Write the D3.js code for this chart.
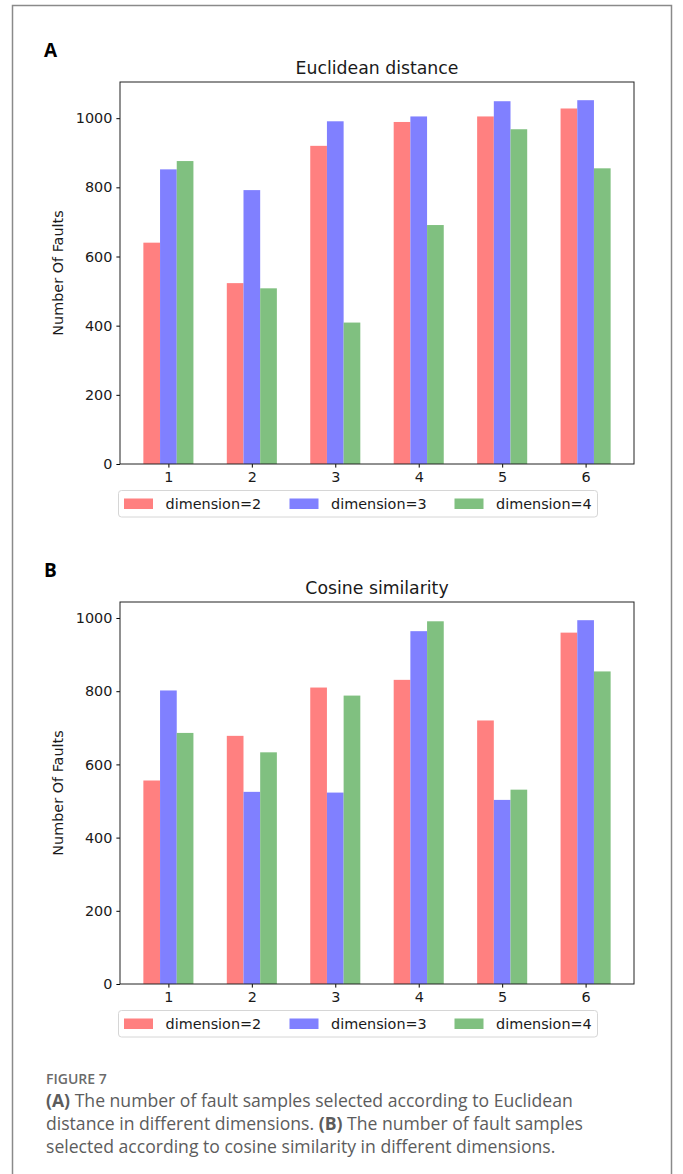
<!DOCTYPE html>
<html>
<head>
<meta charset="utf-8">
<script src="https://cdn.jsdelivr.net/npm/d3@7"></script>
<style>
  html, body { margin: 0; padding: 0; background: #fff; }
  svg { display: block; }
</style>
</head>
<body>
<div id="chart"></div>
<script>
// categories and series
const categories = [1, 2, 3, 4, 5, 6];
const seriesNames = ['dimension=2', 'dimension=3', 'dimension=4'];
const seriesColors = ['#ff8080', '#8080ff', '#80c080'];
const yTicks = [0, 200, 400, 600, 800, 1000];

const euclidDim2 = [640, 523, 920, 989, 1005, 1028];
const euclidDim3 = [852, 792, 991, 1005, 1049, 1052];
const euclidDim4 = [876, 508, 409, 691, 968, 855];

const cosineDim2 = [556, 678, 810, 831, 720, 960];
const cosineDim3 = [802, 525, 523, 964, 503, 994];
const cosineDim4 = [686, 633, 788, 991, 531, 854];

const captionLines = [
  [{ t: '(A)', b: true }, { t: ' The number of fault samples selected according to Euclidean' }],
  [{ t: 'distance in different dimensions. ' }, { t: '(B)', b: true }, { t: ' The number of fault samples' }],
  [{ t: 'selected according to cosine similarity in different dimensions.' }]
];

const W = 683, H = 1174;
const svg = d3.select('#chart').append('svg')
  .attr('width', W).attr('height', H);

svg.append('rect').attr('width', W).attr('height', H).attr('fill', '#fff');
// outer frame
svg.append('path')
  .attr('d', 'M12.5,' + H + 'V5.5H671.5V' + H)
  .attr('fill', 'none').attr('stroke', '#8a8a8a').attr('stroke-width', 1.5);

const plotLeft = 120, plotRight = 634, plotH = 382;
const barW = 0.2, offsets = [-0.2, 0, 0.2];
const font = 'DejaVu Sans, sans-serif';

function styleTicks(a) {
  a.select('.domain').remove();
  a.selectAll('line').attr('stroke', '#000');
  a.selectAll('text').attr('font-family', font).attr('font-size', 14.4).attr('fill', '#1a1a1a');
}

function drawPanel(letter, title, series, top) {
  const g = svg.append('g');
  const bottom = top + plotH;

  const xmin = d3.min(categories) - 0.3, xmax = d3.max(categories) + 0.3;
  const pad = 0.05 * (xmax - xmin);
  const x = d3.scaleLinear().domain([xmin - pad, xmax + pad]).range([plotLeft, plotRight]);
  const ymax = 1.05 * d3.max(series, s => d3.max(s));
  const y = d3.scaleLinear().domain([0, ymax]).range([bottom, top]);

  g.append('text')
    .attr('x', 44).attr('y', top - 25)
    .attr('font-family', 'Open Sans, Liberation Sans, sans-serif')
    .attr('font-weight', 700).attr('font-size', 19).attr('fill', '#000')
    .text(letter);

  g.append('text')
    .attr('x', (plotLeft + plotRight) / 2).attr('y', top - 8.5)
    .attr('text-anchor', 'middle')
    .attr('font-family', font).attr('font-size', 17.3).attr('fill', '#1a1a1a')
    .text(title);

  series.forEach((vals, si) => {
    g.selectAll('.b' + si)
      .data(vals)
      .enter().append('rect')
        .attr('class', 'b' + si)
        .attr('fill', seriesColors[si])
        .attr('x', (d, i) => x(categories[i] + offsets[si] - barW / 2))
        .attr('y', d => y(d))
        .attr('width', x(barW) - x(0))
        .attr('height', d => bottom - y(d));
  });

  const xAxis = d3.axisBottom(x).tickValues(categories).tickFormat(d3.format('d'))
    .tickSize(3.6).tickPadding(4);
  g.append('g').attr('transform', 'translate(0,' + bottom + ')').call(xAxis).call(styleTicks);

  const yAxis = d3.axisLeft(y).tickValues(yTicks).tickFormat(d3.format('d'))
    .tickSize(3.6).tickPadding(4);
  g.append('g').attr('transform', 'translate(' + plotLeft + ',0)').call(yAxis).call(styleTicks);

  g.append('rect')
    .attr('x', plotLeft).attr('y', top)
    .attr('width', plotRight - plotLeft).attr('height', plotH)
    .attr('fill', 'none').attr('stroke', '#222').attr('stroke-width', 1);

  g.append('text')
    .attr('transform', 'translate(63,' + (top + plotH / 2) + ') rotate(-90)')
    .attr('text-anchor', 'middle')
    .attr('font-family', font).attr('font-size', 14.4).attr('fill', '#1a1a1a')
    .text('Number Of Faults');

  // legend under the axes
  const lg = g.append('g').attr('transform', 'translate(0,' + (bottom + 26.5) + ')');
  lg.append('rect')
    .attr('x', 118.5).attr('y', 0).attr('width', 479).attr('height', 26.5)
    .attr('rx', 3).attr('fill', '#fff').attr('stroke', '#d6d6d6');
  const colX = [124, 289.5, 454.5];
  seriesNames.forEach((name, i) => {
    lg.append('rect')
      .attr('x', colX[i]).attr('y', 8).attr('width', 29).attr('height', 10.5)
      .attr('fill', seriesColors[i]);
    lg.append('text')
      .attr('x', colX[i] + 41.5).attr('y', 18.5)
      .attr('font-family', font).attr('font-size', 14.4).attr('fill', '#1a1a1a')
      .text(name);
  });
}

drawPanel('A', 'Euclidean distance', [euclidDim2, euclidDim3, euclidDim4], 82);
drawPanel('B', 'Cosine similarity', [cosineDim2, cosineDim3, cosineDim4], 602);

// caption
svg.append('text')
  .attr('x', 46).attr('y', 1083.5)
  .attr('font-family', 'Open Sans, sans-serif').attr('font-size', 14)
  .attr('font-weight', 600).attr('fill', '#6b6b6b')
  .text('FIGURE 7');

captionLines.forEach((parts, li) => {
  const t = svg.append('text')
    .attr('x', 46).attr('y', 1107 + li * 23)
    .attr('font-family', 'Open Sans, sans-serif').attr('font-size', 17.6).attr('fill', '#5c5c5c');
  parts.forEach(p => {
    t.append('tspan').attr('font-weight', p.b ? 700 : 400).text(p.t);
  });
});
</script>
</body>
</html>
